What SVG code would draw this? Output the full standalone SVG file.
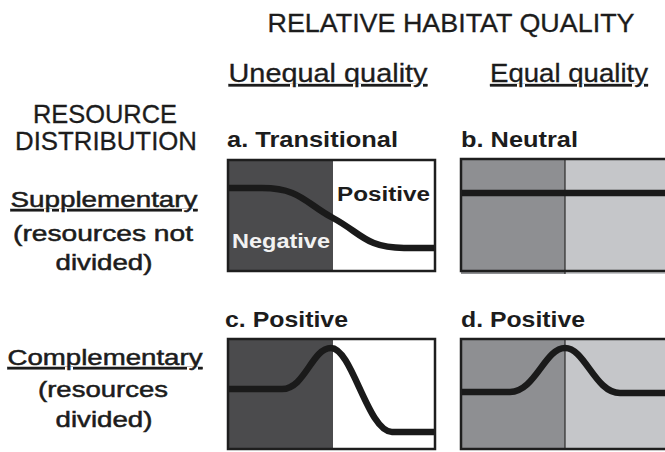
<svg xmlns="http://www.w3.org/2000/svg" width="665" height="452" viewBox="0 0 665 452">
<style>
text{font-family:"Liberation Sans",Arial,sans-serif;fill:#1c1c1c}
.hd{font-size:25px;stroke:#1c1c1c;stroke-width:0.3}
.lab{font-size:22px;stroke:#1c1c1c;stroke-width:0.5}
.pan{font-size:22px;font-weight:bold}
.in{font-size:20px;font-weight:bold}
.u{text-decoration:underline}
.box{fill:none;stroke:#1e1e1e;stroke-width:2.5}
.div{stroke:#2a2a2a;stroke-width:1.2}
.curve{fill:none;stroke:#1a1a1a;stroke-width:6.5;stroke-linejoin:round}
.dark{fill:#4b4b4d}
.mid{fill:#8e8f92}
.light{fill:#c5c6c9}
</style>
<rect width="665" height="452" fill="#ffffff"/>
<g id="headers">
<text class="hd" x="451" y="32" text-anchor="middle" textLength="367" lengthAdjust="spacingAndGlyphs">RELATIVE HABITAT QUALITY</text>
<text class="hd u" x="328" y="82" text-anchor="middle" textLength="199" lengthAdjust="spacingAndGlyphs">Unequal quality</text>
<text class="hd u" x="569" y="82" text-anchor="middle" textLength="158" lengthAdjust="spacingAndGlyphs">Equal quality</text>
</g>
<g id="row-labels">
<text class="hd" x="105" y="123" text-anchor="middle" textLength="144" lengthAdjust="spacingAndGlyphs">RESOURCE</text>
<text class="hd" x="106" y="150" text-anchor="middle" textLength="182" lengthAdjust="spacingAndGlyphs">DISTRIBUTION</text>
<text class="lab u" x="104" y="207" text-anchor="middle" textLength="187" lengthAdjust="spacingAndGlyphs">Supplementary</text>
<text class="lab" x="103" y="241" text-anchor="middle" textLength="180" lengthAdjust="spacingAndGlyphs">(resources not</text>
<text class="lab" x="104" y="270" text-anchor="middle" textLength="97" lengthAdjust="spacingAndGlyphs">divided)</text>
<text class="lab u" x="105" y="365" text-anchor="middle" textLength="195" lengthAdjust="spacingAndGlyphs">Complementary</text>
<text class="lab" x="103" y="397" text-anchor="middle" textLength="130" lengthAdjust="spacingAndGlyphs">(resources</text>
<text class="lab" x="104" y="427" text-anchor="middle" textLength="97" lengthAdjust="spacingAndGlyphs">divided)</text>
</g>
<g id="panel-a">
<text class="pan" x="227" y="147" textLength="171" lengthAdjust="spacingAndGlyphs">a. Transitional</text>
<rect class="dark" x="228" y="160" width="105" height="111"/>
<rect x="333" y="160" width="102" height="111" fill="#ffffff"/>
<text class="in" x="337" y="201" textLength="93" lengthAdjust="spacingAndGlyphs">Positive</text>
<text class="in" x="232" y="248" textLength="98" lengthAdjust="spacingAndGlyphs" style="fill:#f2f2f2">Negative</text>
<path class="curve" d="M228,188 H262 C300,188 305,203 333,218 C361,233 366,248 404,248 H435"/>
<rect class="box" x="228" y="160" width="207" height="111"/>
</g>
<g id="panel-b">
<text class="pan" x="461" y="147" textLength="117" lengthAdjust="spacingAndGlyphs">b. Neutral</text>
<rect class="mid" x="461" y="159" width="104" height="115"/>
<rect class="light" x="565" y="159" width="105" height="115"/>
<line class="div" x1="565" y1="159" x2="565" y2="274"/>
<path class="curve" d="M461,193 H665"/>
<rect class="box" x="461" y="159" width="210" height="112"/>
</g>
<g id="panel-c">
<text class="pan" x="225" y="327" textLength="123" lengthAdjust="spacingAndGlyphs">c. Positive</text>
<rect class="dark" x="228" y="339" width="105" height="110"/>
<rect x="333" y="339" width="102" height="110" fill="#ffffff"/>
<path class="curve" d="M228,389 H282 C305,389 312,348 331,348 C352,348 368,432 392,432 H435"/>
<rect class="box" x="228" y="339" width="207" height="110"/>
</g>
<g id="panel-d">
<text class="pan" x="461" y="327" textLength="124" lengthAdjust="spacingAndGlyphs">d. Positive</text>
<rect class="mid" x="461" y="339" width="104" height="110"/>
<rect class="light" x="565" y="339" width="105" height="110"/>
<line class="div" x1="565" y1="339" x2="565" y2="449"/>
<path class="curve" d="M461,392 H510 C535,392 545,348 565,348 C585,348 595,393 620,393 H665"/>
<rect class="box" x="461" y="339" width="210" height="110"/>
</g>
<g id="connectors"></g>
</svg>
